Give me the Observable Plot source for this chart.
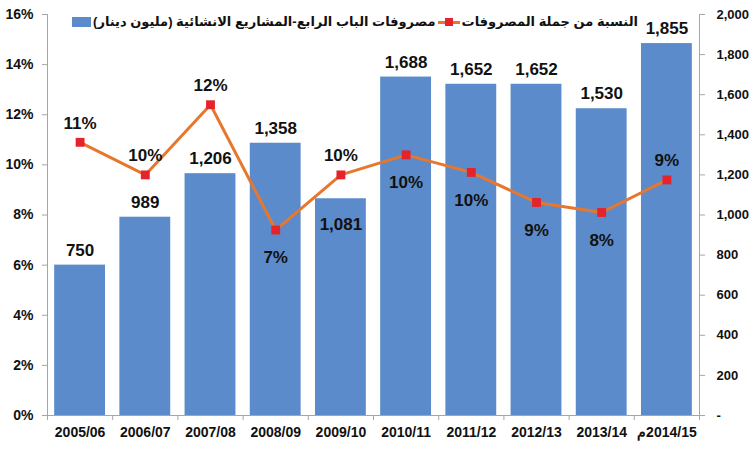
<!DOCTYPE html>
<html>
<head>
<meta charset="utf-8">
<script src="https://cdn.jsdelivr.net/npm/d3@7"></script>
<script src="https://cdn.jsdelivr.net/npm/@observablehq/plot@0.6"></script>
<style>
  body { margin: 0; background: #fff; }
  #wrap { position: relative; width: 756px; height: 450px; font-family: "Liberation Sans", Arial, "DejaVu Sans", sans-serif; }
  #legend { position: absolute; top: 14px; right: 118px; direction: rtl; display: flex; align-items: center; gap: 2px;
            font-weight: bold; font-size: 13px; line-height: 16px; color: #111; white-space: nowrap; }
  .sw-line { position: relative; width: 22px; height: 10px; }
  .sw-line::before { content: ""; position: absolute; left: 0; right: 0; top: 3.5px; height: 3px; background: #E8772E; }
  .sw-line::after { content: ""; position: absolute; left: 7px; top: 1px; width: 8px; height: 8px; background: #E5232A; }
  .sw-bar { width: 19px; height: 10px; background: #5B8BCA; }
</style>
</head>
<body>
<div id="wrap"><div id="legend"></div></div>
<script>
// ---- data ----
const categories = ["2005/06", "2006/07", "2007/08", "2008/09", "2009/10", "2010/11", "2011/12", "2012/13", "2013/14", "2014/15م"];
const spending = [750, 989, 1206, 1358, 1081, 1688, 1652, 1652, 1530, 1855]; // million dinars (right axis)
const share = [10.9, 9.6, 12.4, 7.4, 9.6, 10.4, 9.7, 8.5, 8.1, 9.4];         // % of total expenditure (left axis)
const leftTicks = [0, 2, 4, 6, 8, 10, 12, 14, 16];
const rightTicks = [0, 200, 400, 600, 800, 1000, 1200, 1400, 1600, 1800, 2000];
const seriesNames = ["النسبة من جملة المصروفات", "مصروفات الباب الرابع-المشاريع الانشائية (مليون دينار)"];

// label placement (styling, not data)
const barLabelInside = [4];
const shareLabelBelow = [3, 5, 6, 7, 8];

const BLUE = "#5B8BCA", ORANGE = "#E8772E", RED = "#E5232A", AXIS = "#A6A6A6", INK = "#111";
const PCT_MAX = 16, VAL_MAX = 2000, k = PCT_MAX / VAL_MAX;

const rows = categories.map((c, i) => ({ i, c, v: spending[i], p: share[i] }));
const fmtNum = d3.format(",");
// show the trailing Arabic letter on the left as in the source
const catLabel = c => /م$/.test(c) ? "م\u200E" + c.slice(0, -1) : c;

const chart = Plot.plot({
  width: 756,
  height: 450,
  marginLeft: 47,
  marginRight: 57,
  marginTop: 14,
  marginBottom: 35,
  style: { fontFamily: "'Liberation Sans', Arial, sans-serif", fontWeight: "bold", fontSize: "14px", color: INK, background: "#fff" },
  x: { type: "linear", domain: [0, categories.length], axis: null },
  y: { domain: [0, PCT_MAX], axis: null },
  marks: [
    Plot.rect(rows, { x1: d => d.i + 0.11, x2: d => d.i + 0.89, y1: 0, y2: d => d.v * k, fill: BLUE }),
    Plot.ruleX([0, categories.length], { y1: 0, y2: PCT_MAX, stroke: AXIS }),
    Plot.ruleY([0], { stroke: AXIS }),
    Plot.axisY(leftTicks, { anchor: "left", tickSize: 5, tickPadding: 9, stroke: AXIS, fill: INK, label: null,
      tickFormat: d => d + "%", fontSize: 14 }),
    Plot.axisY(rightTicks.map(v => v * k), { anchor: "right", tickSize: 5, tickPadding: 12, stroke: AXIS, fill: INK, label: null,
      tickFormat: d => { const v = Math.round(d / k); return v === 0 ? "-" : fmtNum(v); }, fontSize: 13 }),
    Plot.axisX(d3.range(0, categories.length + 1), { anchor: "bottom", tickSize: 5, stroke: AXIS, tickFormat: () => "", label: null }),
    Plot.axisX(categories.map((_, i) => i + 0.5), { anchor: "bottom", tickSize: 0, tickPadding: 12, fill: INK, label: null,
      tickFormat: d => catLabel(categories[Math.floor(d)]), fontSize: 14 }),
    Plot.line(rows, { x: d => d.i + 0.5, y: "p", stroke: ORANGE, strokeWidth: 3 }),
    Plot.dot(rows, { x: d => d.i + 0.5, y: "p", symbol: "square", r: 5, fill: RED }),
    Plot.text(rows.filter(d => !barLabelInside.includes(d.i)), { x: d => d.i + 0.5, y: d => d.v * k, text: d => fmtNum(d.v), dy: -15, fontSize: 17, fill: INK }),
    Plot.text(rows.filter(d => barLabelInside.includes(d.i)), { x: d => d.i + 0.5, y: d => d.v * k, text: d => fmtNum(d.v), dy: 26, fontSize: 17, fill: INK }),
    Plot.text(rows.filter(d => !shareLabelBelow.includes(d.i)), { x: d => d.i + 0.5, y: "p", text: d => Math.round(d.p) + "%", dy: -19, fontSize: 17, fill: INK }),
    Plot.text(rows.filter(d => shareLabelBelow.includes(d.i)), { x: d => d.i + 0.5, y: "p", text: d => Math.round(d.p) + "%", dy: 28, fontSize: 17, fill: INK })
  ]
});

const wrap = document.getElementById("wrap");
wrap.insertBefore(chart, wrap.firstChild);

const legend = document.getElementById("legend");
const swatches = ["sw-line", "sw-bar"];
seriesNames.forEach((name, i) => {
  const t = document.createElement("span");
  t.textContent = name;
  const s = document.createElement("span");
  s.className = swatches[i];
  legend.appendChild(t);
  legend.appendChild(s);
});
</script>
</body>
</html>
